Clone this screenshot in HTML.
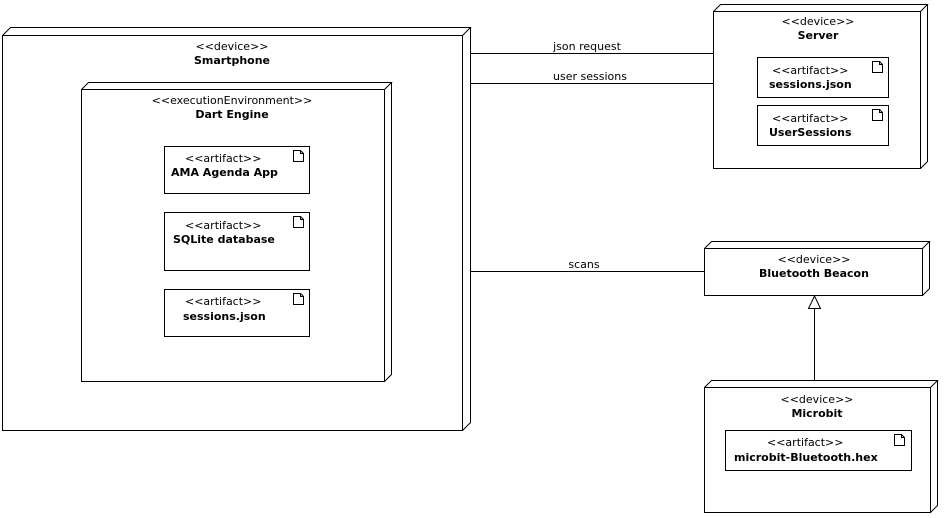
<!DOCTYPE html>
<html><head><meta charset="utf-8"><style>
html,body{margin:0;padding:0;background:#fff;}
svg{display:block;font-family:"DejaVu Sans",sans-serif;font-size:11px;}
.b{font-weight:bold;}
</style></head><body>
<svg width="944" height="518" viewBox="0 0 944 518" xmlns="http://www.w3.org/2000/svg">
<g fill="none" stroke="#000" stroke-width="1">
<!-- Smartphone -->
<rect x="2.5" y="35.5" width="460" height="395"/>
<path d="M2.5 35.5 L10.5 27.5 L470.5 27.5 L462.5 35.5 M470.5 27.5 L470.5 422.5 L462.5 430.5"/>
<!-- Dart Engine -->
<rect x="81.5" y="89.5" width="303" height="292"/>
<path d="M81.5 89.5 L88.5 82.5 L391.5 82.5 L384.5 89.5 M391.5 82.5 L391.5 374.5 L384.5 381.5"/>
<rect x="164.5" y="146.5" width="145" height="47"/>
<rect x="164.5" y="212.5" width="145" height="58"/>
<rect x="164.5" y="289.5" width="145" height="47"/>
<!-- Server -->
<rect x="713.5" y="11.5" width="207" height="157"/>
<path d="M713.5 11.5 L720.5 4.5 L927.5 4.5 L920.5 11.5 M927.5 4.5 L927.5 161.5 L920.5 168.5"/>
<rect x="757.5" y="57.5" width="131" height="40"/>
<rect x="757.5" y="105.5" width="131" height="40"/>
<!-- Beacon -->
<rect x="704.5" y="248.5" width="218" height="47"/>
<path d="M704.5 248.5 L711.5 241.5 L929.5 241.5 L922.5 248.5 M929.5 241.5 L929.5 288.5 L922.5 295.5"/>
<!-- Microbit -->
<rect x="704.5" y="387.5" width="226" height="125"/>
<path d="M704.5 387.5 L711.5 380.5 L937.5 380.5 L930.5 387.5 M937.5 380.5 L937.5 505.5 L930.5 512.5"/>
<rect x="725.5" y="430.5" width="186" height="40"/>
<!-- connectors -->
<path d="M470 53.5 L713 53.5 M470 83.5 L713 83.5 M470 271.5 L704 271.5"/>
<path d="M814.5 380 L814.5 308"/>
<path d="M814.5 296 L808.5 308.5 L820.5 308.5 Z" fill="#fff"/>
<!-- doc icons -->
<g id="ic">
<path d="M293.5 150.5 L300.5 150.5 L303.5 153.5 L303.5 161.5 L293.5 161.5 Z M300.5 150.5 L300.5 153.5 L303.5 153.5"/>
</g>
<use href="#ic" y="66"/>
<use href="#ic" y="143"/>
<use href="#ic" x="579" y="-89"/>
<use href="#ic" x="579" y="-41"/>
<use href="#ic" x="601" y="284"/>
</g>
<g fill="#000">
<text x="232" y="50" text-anchor="middle">&lt;&lt;device&gt;&gt;</text>
<text x="232" y="64" text-anchor="middle" class="b">Smartphone</text>
<text x="232" y="104" text-anchor="middle">&lt;&lt;executionEnvironment&gt;&gt;</text>
<text x="232" y="118" text-anchor="middle" class="b">Dart Engine</text>
<text x="185" y="162">&lt;&lt;artifact&gt;&gt;</text>
<text x="171" y="176" class="b">AMA Agenda App</text>
<text x="185" y="229">&lt;&lt;artifact&gt;&gt;</text>
<text x="173" y="243" class="b">SQLite database</text>
<text x="185" y="305">&lt;&lt;artifact&gt;&gt;</text>
<text x="183" y="320" class="b">sessions.json</text>
<text x="818" y="25" text-anchor="middle">&lt;&lt;device&gt;&gt;</text>
<text x="818" y="39" text-anchor="middle" class="b">Server</text>
<text x="772" y="74">&lt;&lt;artifact&gt;&gt;</text>
<text x="769" y="88" class="b">sessions.json</text>
<text x="772" y="122">&lt;&lt;artifact&gt;&gt;</text>
<text x="769" y="136" class="b">UserSessions</text>
<text x="814" y="263" text-anchor="middle">&lt;&lt;device&gt;&gt;</text>
<text x="814" y="277" text-anchor="middle" class="b">Bluetooth Beacon</text>
<text x="817" y="403" text-anchor="middle">&lt;&lt;device&gt;&gt;</text>
<text x="817" y="417" text-anchor="middle" class="b">Microbit</text>
<text x="767" y="446">&lt;&lt;artifact&gt;&gt;</text>
<text x="734" y="461" class="b">microbit-Bluetooth.hex</text>
<text x="587" y="50" text-anchor="middle">json request</text>
<text x="590" y="80" text-anchor="middle">user sessions</text>
<text x="584" y="268" text-anchor="middle">scans</text>
</g>
</svg>
</body></html>
